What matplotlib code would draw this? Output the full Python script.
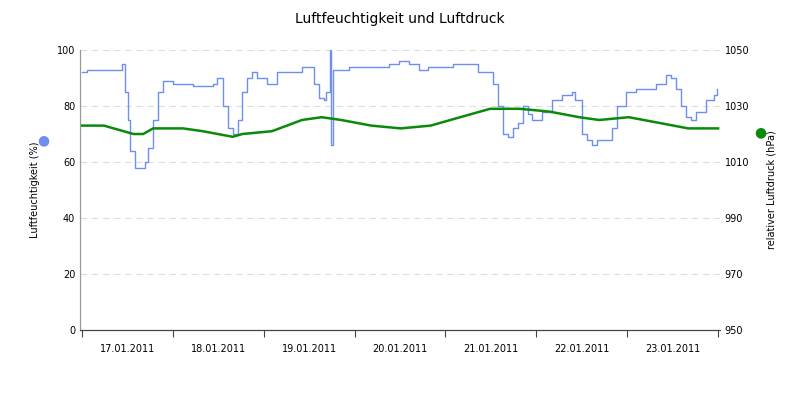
import matplotlib
matplotlib.use("Agg")
import matplotlib.pyplot as plt
from datetime import datetime, timedelta
import matplotlib.dates as mdates

start = datetime(2011, 1, 17)
hum_hours = [0,1.3,4,10.7,11.3,12.1,12.8,14.1,15.7,16.7,17.5,18.8,20.1,21.4,24,29.3,34.5,35.8,37.2,38.5,39.8,41.1,42.4,43.7,45,46.3,48.9,51.5,58.1,59.4,61.2,62.7,63.8,64.5,65.4,65.6,65.8,66.2,70.6,81,82.3,83.7,86.3,88.9,91.5,98.1,104.6,107.2,108.5,109.9,111.2,112.5,113.8,115.1,116.4,117.7,118.9,121.6,124.2,126.8,129.4,130.2,132,133.3,134.6,135.9,137.3,138.6,139.9,141.2,143.8,146.4,151.7,153,154.3,155.6,156.9,158.2,159.5,160.9,162.2,164.8,166.9,167.8]
hum_vals = [92,93,93,95,85,75,64,58,58,60,65,75,85,89,88,87,88,90,80,72,70,75,85,90,92,90,88,92,94,94,88,83,82,85,95,100,66,93,94,95,95,96,95,93,94,95,92,92,88,80,70,69,72,74,80,77,75,78,82,84,85,82,70,68,66,68,68,68,72,80,85,86,88,88,91,90,86,80,76,75,78,82,84,86]
pres_hours = [0,5.8,13.6,16.2,18.8,26.7,31.9,39.8,42.4,50.2,58.1,63.3,68.5,76.4,84.2,92.1,99.9,107.8,115.6,123.5,131.3,136.6,144.4,152.3,160.1,168]
pres_vals = [1023,1023,1020,1020,1022,1022,1021,1019,1020,1021,1025,1026,1025,1023,1022,1023,1026,1029,1029,1028,1026,1025,1026,1024,1022,1022]

ht = [start + timedelta(hours=h) for h in hum_hours]
pt = [start + timedelta(hours=h) for h in pres_hours]

fig = plt.figure(figsize=(8, 4), dpi=100)
ax = fig.add_axes([0.1, 0.175, 0.8, 0.7])
ax2 = ax.twinx()
ax.plot(ht, hum_vals, color="#6f8ff0", lw=1, drawstyle="steps-post")
ax2.plot(pt, pres_vals, color="#0a8a0a", lw=1.8)
ax.set_ylim(0, 100)
ax2.set_ylim(950, 1050)
ax.set_yticks(range(0, 101, 20))
ax2.set_yticks(range(950, 1051, 20))
ax.set_xlim(start - timedelta(hours=0.5), start + timedelta(hours=168.5))
ax.grid(axis="y", ls=(0, (6, 4)), color="#dddddd", lw=0.8)
ax.xaxis.set_major_locator(mdates.DayLocator())
ax.xaxis.set_major_formatter(plt.NullFormatter())
ax.xaxis.set_minor_locator(mdates.HourLocator(byhour=[12]))
ax.xaxis.set_minor_formatter(mdates.DateFormatter("%d.%m.%Y"))
ax.tick_params(axis="x", which="minor", length=0, labelsize=7, pad=10)
ax.tick_params(axis="x", which="major", length=5, color="#444")
for a in (ax, ax2):
    a.tick_params(axis="y", labelsize=7, length=0)
    a.spines["top"].set_visible(False)
    a.spines["left"].set_color("#999")
    a.spines["right"].set_visible(False)
    a.spines["bottom"].set_color("#444")
ax.set_ylabel("Luftfeuchtigkeit (%)", fontsize=7, labelpad=12)
ax2.set_ylabel("relativer Luftdruck (hPa)", fontsize=7, labelpad=12)
fig.text(0.054, 0.65, "●", color="#6f8ff0", fontsize=10, ha="center", va="center")
fig.text(0.951, 0.67, "●", color="#0a8a0a", fontsize=10, ha="center", va="center")
fig.suptitle("Luftfeuchtigkeit und Luftdruck", fontsize=10, y=0.97)
fig.savefig("out.png")
